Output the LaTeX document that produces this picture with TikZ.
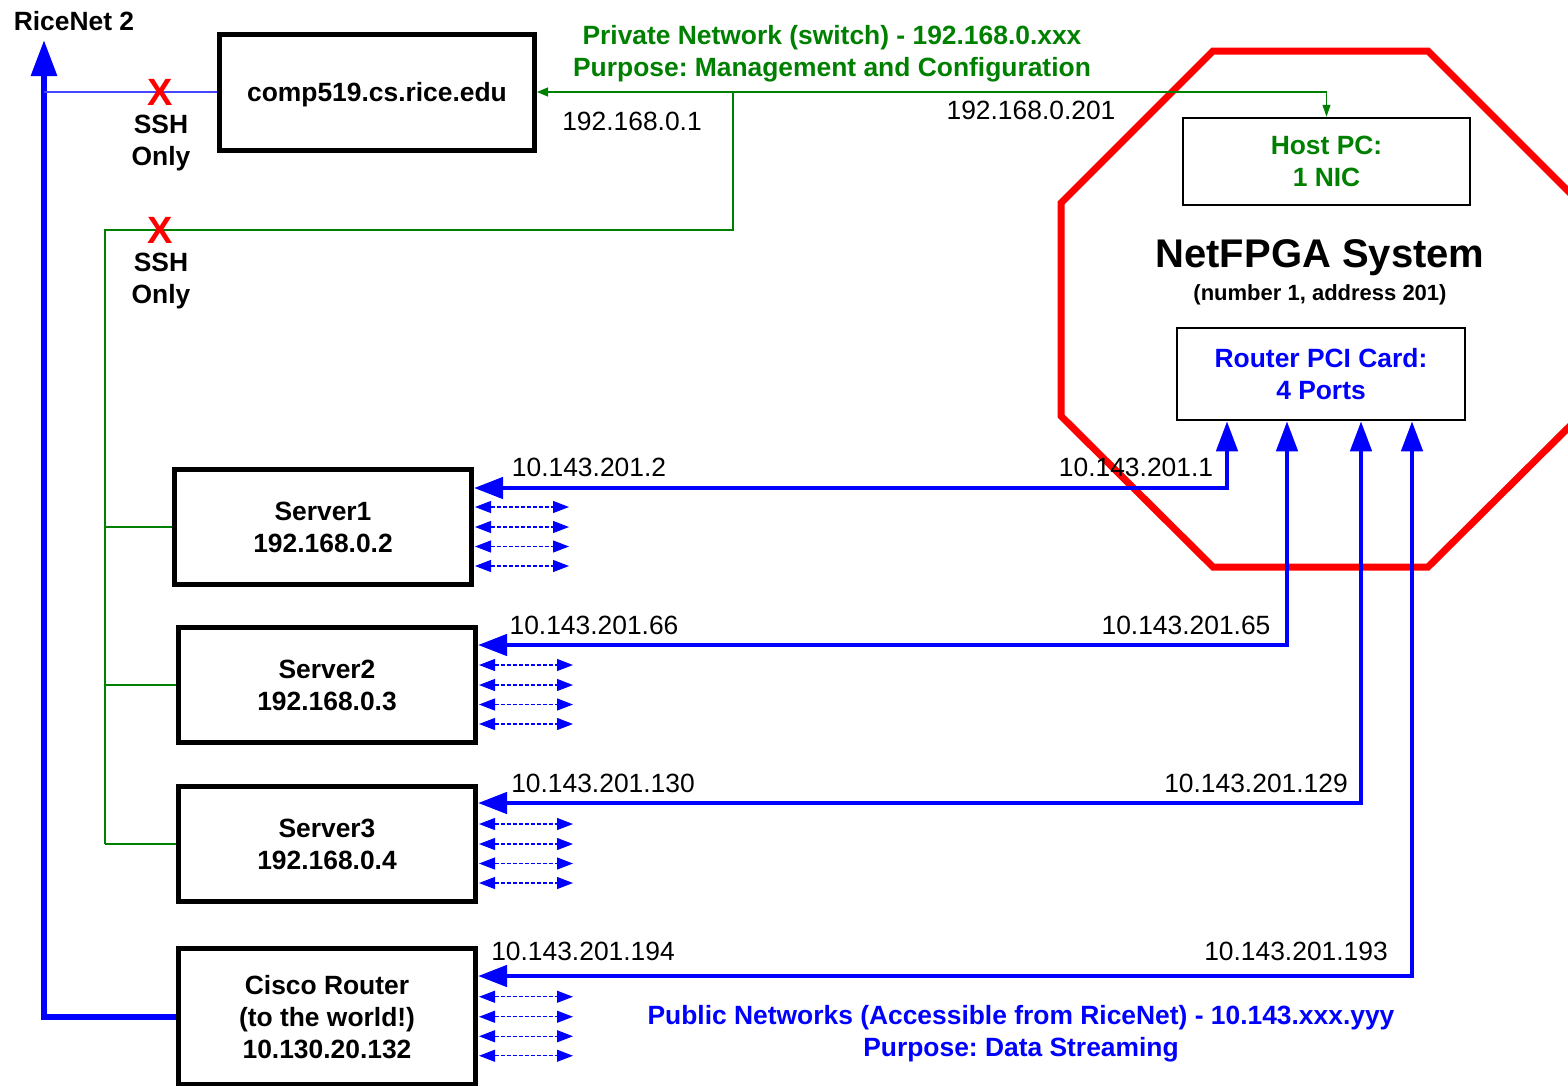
\documentclass[tikz,border=0pt]{standalone}
\usepackage{fontspec}
\setmainfont{Liberation Sans}
\usetikzlibrary{arrows.meta,calc}
\definecolor{pgreen}{RGB}{0,128,0}
\definecolor{pblue}{RGB}{0,0,255}
\definecolor{lblue}{RGB}{70,70,255}
\definecolor{pred}{RGB}{255,0,0}
\frenchspacing
\begin{document}
\frenchspacing
\begin{tikzpicture}[x=1pt,y=-1pt,
  every node/.style={font=\fontsize{26.4}{32}\selectfont, inner sep=0pt, align=center},
  lbl/.style={font=\fontsize{26.4}{32}\selectfont\bfseries},
  ip/.style={font=\fontsize{26.4}{32}\selectfont},
  thickbox/.style={draw, line width=5pt, minimum width=297pt, minimum height=115pt, font=\fontsize{26.4}{32}\selectfont\bfseries},
  thinbox/.style={draw, line width=2.5pt, font=\fontsize{26.4}{32}\selectfont\bfseries},
  redx/.style={text=pred, font=\fontsize{38}{40}\selectfont\bfseries},
  gline/.style={draw=pgreen, line width=1.1pt},
  garrow/.style={gline, {Triangle[length=11pt,width=9pt]}-{Triangle[length=12pt,width=8pt]}},
  port/.style={draw=pblue, line width=4.5pt, line join=miter, {Triangle[length=29pt,width=21pt]}-{Triangle[length=30pt,width=21pt]}},
  dasharrow/.style={draw=pblue, line width=1.1pt, dash pattern=on 4pt off 2pt, {Triangle[length=16pt,width=12pt,sep=0pt]}-{Triangle[length=16pt,width=12pt]}},
  octo/.style={draw=pred, line width=7pt, line join=miter}
]
\useasboundingbox (0,0) rectangle (1568,1085);

% NetFPGA octagon
\draw[octo] (1213,51) -- (1428,51) -- (1580,203) -- (1580,416) -- (1428,567) -- (1213,567) -- (1061,416) -- (1061,203) -- cycle;

% boxes
\node[thickbox, minimum width=315pt, minimum height=116pt, text depth=0pt] (comp) at (377,92) {comp519.cs.rice.edu};
\node[thinbox, minimum width=287pt, minimum height=87pt, text=pgreen] (host) at (1326.5,161.5) {Host PC:\\1 NIC};
\node[thinbox, minimum width=288pt, minimum height=92pt, text=pblue] (pci) at (1321,374) {Router PCI Card:\\4 Ports};
\node[font=\fontsize{40}{44}\selectfont\bfseries] (sys) at (1320,258) {NetFPGA System};
\node[font=\fontsize{22}{26}\selectfont\bfseries] (sysnum) at (1320,295) {(number 1, address 201)};

\node[thickbox] (server1) at (323,527) {Server1\\192.168.0.2};
\node[thickbox] (server2) at (327,685) {Server2\\192.168.0.3};
\node[thickbox] (server3) at (327,844) {Server3\\192.168.0.4};
\node[thickbox, minimum height=136pt] (cisco) at (327,1016.75) {Cisco Router\\(to the world!)\\10.130.20.132};

% RiceNet
\node[lbl] (ricenet) at (74,21) {RiceNet 2};
\coordinate (rtip) at (44,40);
\draw[draw=pblue, line width=6pt, line join=miter, -{Triangle[length=36pt,width=25pt]}] (cisco.west) -- (cisco.west -| rtip) -- (rtip);
\draw[draw=lblue, line width=1.5pt] (comp.west) -- (comp.west -| rtip);

% green private network
\coordinate (gb) at (733,92);
\coordinate (gc) at (733,230);
\coordinate (gd) at (105,230);
\draw[garrow] (comp.east) -- (host.north |- comp.east) -- (host.north);
\draw[gline] (gb) -- (gc) -- (gd) -- (gd |- server3.west);
\draw[gline] (gd |- server1.west) -- (server1.west);
\draw[gline] (gd |- server2.west) -- (server2.west);
\draw[gline] (gd |- server3.west) -- (server3.west);

\node[redx] (x1) at (160,92) {X};
\node[redx] (x2) at (160,230) {X};
\node[lbl] (ssh1) at (161,143) {SSH\\Only};
\node[lbl] (ssh2) at (161,281) {SSH\\Only};

\node[lbl, text=pgreen] (privlbl) at (832,54) {Private Network (switch) - 192.168.0.xxx\\Purpose: Management and Configuration};
\node[ip] (ipc) at (632,121) {192.168.0.1};
\node[ip] (iph) at (1031,110) {192.168.0.201};

% blue data ports
\coordinate (p1) at (1227,488);
\coordinate (p2) at (1287,645);
\coordinate (p3) at (1361,803);
\coordinate (p4) at (1412,976);
\draw[port] (server1.east |- p1) -- (p1) -- (pci.south -| p1);
\draw[port] (server2.east |- p2) -- (p2) -- (pci.south -| p2);
\draw[port] (server3.east |- p3) -- (p3) -- (pci.south -| p3);
\draw[port] (cisco.east |- p4) -- (p4) -- (pci.south -| p4);

\node[ip] (ip1a) at (589,467) {10.143.201.2};
\node[ip] (ip1b) at (1136,467) {10.143.201.1};
\node[ip] (ip2a) at (594,625) {10.143.201.66};
\node[ip] (ip2b) at (1186,625) {10.143.201.65};
\node[ip] (ip3a) at (603,783) {10.143.201.130};
\node[ip] (ip3b) at (1256,783) {10.143.201.129};
\node[ip] (ip4a) at (583,951) {10.143.201.194};
\node[ip] (ip4b) at (1296,951) {10.143.201.193};

% small dashed double arrows
\foreach \s in {server1,server2,server3,cisco}{
  \foreach \d in {-20,0,19.5,39}{
    \draw[dasharrow] ($(\s.east)+(1,\d)$) -- ++(94,0);
  }
}

\node[lbl, text=pblue] (publbl) at (1021,1034) {Public Networks (Accessible from RiceNet) - 10.143.xxx.yyy\\Purpose: Data Streaming};
\end{tikzpicture}
\end{document}
